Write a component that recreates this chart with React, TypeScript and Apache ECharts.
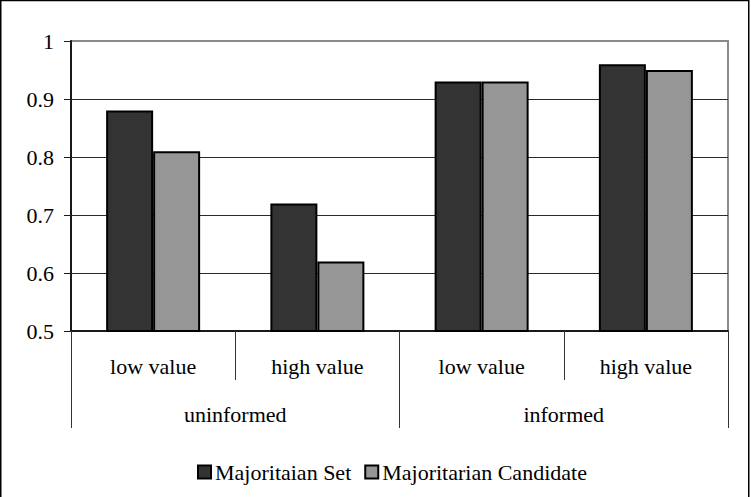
import React, { useEffect, useRef } from "react";
import * as echarts from "echarts";

const innerCategories = ["low value", "high value", "low value", "high value"];
const outerCategories = ["uninformed", "informed"];
const seriesNames = ["Majoritaian Set", "Majoritarian Candidate"];
const majoritaianSet = [0.88, 0.72, 0.93, 0.96];
const majoritarianCandidate = [0.81, 0.62, 0.93, 0.95];
const yMin = 0.5;
const yMax = 1;
const yStep = 0.1;

const FONT = "'Liberation Serif', 'Times New Roman', serif";
const FS = 22;

export default function App() {
  const ref = useRef<HTMLDivElement>(null);
  useEffect(() => {
    if (!ref.current) return;
    const chart = echarts.init(ref.current, undefined, { renderer: "svg" });
    chart.setOption({
      animation: false,
      backgroundColor: "#ffffff",
      textStyle: { fontFamily: FONT, color: "#000" },
      grid: {
        left: 71,
        right: 23,
        top: 41,
        bottom: 166,
        show: true,
        borderColor: "#8a8a8a",
        borderWidth: 2,
        backgroundColor: "#ffffff",
      },
      graphic: [
        {
          type: "rect",
          shape: { x: 0.75, y: 0.5, width: 748, height: 520 },
          style: { fill: "none", stroke: "#000", lineWidth: 1.5 },
          silent: true,
          z: 100,
        },
      ],
      legend: {
        data: seriesNames,
        left: 197,
        top: 461,
        padding: 0,
        icon: "rect",
        itemWidth: 13,
        itemHeight: 13,
        itemGap: 13,
        textStyle: { fontFamily: FONT, fontSize: FS, color: "#000", padding: [0, 0, 0, -1] },
      },
      xAxis: [
        {
          type: "category",
          data: innerCategories,
          position: "bottom",
          axisLine: { show: true, lineStyle: { color: "#1a1a1a", width: 2 } },
          axisTick: { show: true, length: 49, interval: 0, lineStyle: { color: "#333", width: 1 } },
          axisLabel: { interval: 0, margin: 24, fontFamily: FONT, fontSize: FS, color: "#000" },
          splitLine: { show: false },
        },
        {
          type: "category",
          data: outerCategories,
          position: "bottom",
          axisLine: { show: false },
          axisTick: { show: true, length: 97, interval: 0, lineStyle: { color: "#333", width: 1 } },
          axisLabel: { interval: 0, margin: 72, fontFamily: FONT, fontSize: FS, color: "#000" },
          splitLine: { show: false },
        },
      ],
      yAxis: {
        type: "value",
        min: yMin,
        max: yMax,
        interval: yStep,
        axisLine: { show: true, lineStyle: { color: "#1a1a1a", width: 2 } },
        axisTick: { show: true, length: 7, lineStyle: { color: "#1a1a1a", width: 1 } },
        axisLabel: {
          margin: 17,
          fontFamily: FONT,
          fontSize: FS,
          color: "#000",
          formatter: (v: number) => String(Math.round(v * 10) / 10),
        },
        splitLine: { show: true, showMaxLine: false, showMinLine: false, lineStyle: { color: "#2a2a2a", width: 1 } },
      },
      series: [
        {
          name: seriesNames[0],
          type: "bar",
          xAxisIndex: 0,
          data: majoritaianSet,
          barWidth: 47,
          barGap: "0%",
          itemStyle: { color: "#333333", borderColor: "#000", borderWidth: 2 },
        },
        {
          name: seriesNames[1],
          type: "bar",
          xAxisIndex: 0,
          data: majoritarianCandidate,
          barWidth: 47,
          barGap: "0%",
          itemStyle: { color: "#969696", borderColor: "#000", borderWidth: 2 },
        },
      ],
    });
    return () => chart.dispose();
  }, []);
  return (
    <div
      ref={ref}
      style={{ position: "fixed", left: 0, top: 0, width: 751, height: 497 }}
    />
  );
}
